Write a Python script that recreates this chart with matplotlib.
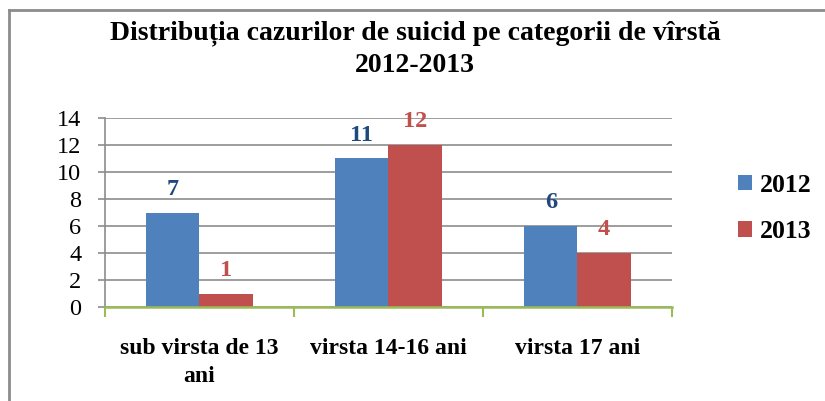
import matplotlib
matplotlib.use("Agg")
import matplotlib.pyplot as plt
import numpy as np
from matplotlib.lines import Line2D

categories = ["sub virsta de 13\nani", "virsta 14-16 ani", "virsta 17 ani"]
series_names = ["2012", "2013"]
values_2012 = [7, 11, 6]
values_2013 = [1, 12, 4]
yticks = [0, 2, 4, 6, 8, 10, 12, 14]

plt.rcParams['font.family'] = ['Liberation Serif', 'DejaVu Serif']

W, H = 825, 401
fig = plt.figure(figsize=(W / 100, H / 100), dpi=100)

# figure border (top and left only visible)
fig.add_artist(Line2D([9 / W, 9 / W], [0, 1 - 10 / H], color='#8c8c8c', lw=2, transform=fig.transFigure))
fig.add_artist(Line2D([9 / W, 1], [1 - 10 / H, 1 - 10 / H], color='#8c8c8c', lw=2, transform=fig.transFigure))

ax_l, ax_r = 105, 672
ax_t, ax_b = 118, 307
ax = fig.add_axes([ax_l / W, 1 - ax_b / H, (ax_r - ax_l) / W, (ax_b - ax_t) / H])

x = np.arange(len(categories))
bw = 0.283
blue, red = '#4F81BD', '#C0504D'
b1 = ax.bar(x - bw / 2, values_2012, bw, color=blue, label=series_names[0], zorder=3)
b2 = ax.bar(x + bw / 2, values_2013, bw, color=red, label=series_names[1], zorder=3)

for xi, v in zip(x, values_2012):
    ax.text(xi - bw / 2, v + 0.95, str(v), ha='center', va='bottom', fontsize=17.5,
            fontweight='bold', color='#1F497D')
for xi, v in zip(x, values_2013):
    ax.text(xi + bw / 2, v + 0.95, str(v), ha='center', va='bottom', fontsize=17.5,
            fontweight='bold', color='#C0504D')

ax.set_xlim(-0.5, len(categories) - 0.5)
ax.set_ylim(0, 14)
ax.set_yticks(yticks)
ax.set_yticklabels([str(t) for t in yticks], fontsize=17.5)
ax.yaxis.grid(True, color='#8c8c8c', lw=1.2, zorder=0)
ax.set_axisbelow(True)
ax.tick_params(axis='y', length=5, color='#8c8c8c', width=1.2, pad=12)

ax.set_xticks(np.arange(len(categories) + 1) - 0.5, minor=False)
ax.set_xticklabels([])
ax.tick_params(axis='x', length=7, color='#9BBB59', width=1.5, direction='out')
for xi, c in zip(x, categories):
    ax.text(xi, -2.3, c, ha='center', va='top', fontsize=17, fontweight='bold',
            linespacing=1.45, transform=ax.transData)

for s in ['top', 'right']:
    ax.spines[s].set_visible(False)
ax.spines['left'].set_color('#8c8c8c')
ax.spines['left'].set_linewidth(1.2)
ax.spines['bottom'].set_color('#9BBB59')
ax.spines['bottom'].set_linewidth(1.8)
ax.spines['bottom'].set_zorder(4)

fig.text(415 / W, 1 - 49 / H, "Distribuția cazurilor de suicid pe categorii de vîrstă\n2012-2013",
         ha='center', va='center', fontsize=20, fontweight='bold', linespacing=1.38)

fig.legend(handles=[b1, b2], labels=series_names, loc='center left',
           bbox_to_anchor=(738 / W, 1 - 208.5 / H), frameon=False, borderaxespad=0, borderpad=0,
           prop={'weight': 'bold', 'size': 18.5}, handlelength=0.55, handleheight=0.55,
           handletextpad=0.3, labelspacing=0.92)

fig.savefig("out.png", dpi=100)
